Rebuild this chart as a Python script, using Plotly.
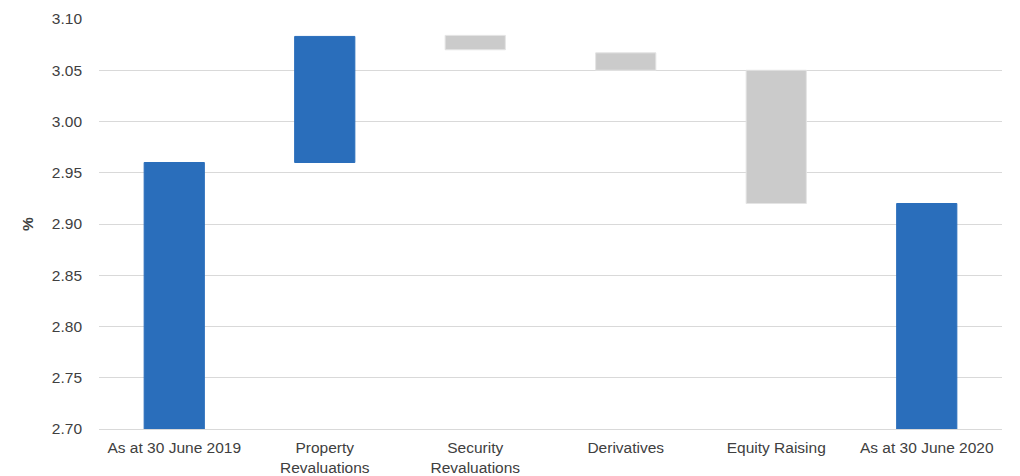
import plotly.graph_objects as go

# Categories along the x axis (multi-line labels use <br>)
categories = [
    "As at 30 June 2019",
    "Property<br>Revaluations",
    "Security<br>Revaluations",
    "Derivatives",
    "Equity Raising",
    "As at 30 June 2020",
]

# Floating bar extents (%), lower and upper edge of each bar
bar_bottom = [0.0, 2.960, 3.070, 3.050, 2.920, 0.0]
bar_top = [2.960, 3.083, 3.084, 3.067, 3.050, 2.920]

# Blue for totals / increases, grey for movements
BLUE = "#2a6ebb"
GREY = "#cbcbcb"
bar_colors = [BLUE, BLUE, GREY, GREY, GREY, BLUE]
edge_colors = [BLUE, BLUE, "#e4e4e4", "#e4e4e4", "#e4e4e4", BLUE]

y_ticks = [2.70, 2.75, 2.80, 2.85, 2.90, 2.95, 3.00, 3.05, 3.10]

heights = [t - b for t, b in zip(bar_top, bar_bottom)]

fig = go.Figure(
    go.Bar(
        x=categories,
        y=heights,
        base=bar_bottom,
        width=0.4,
        marker=dict(color=bar_colors, line=dict(color=edge_colors, width=1)),
        hoverinfo="skip",
    )
)

TEXT = "#404040"
FONT = "Liberation Sans, Arial, sans-serif"

fig.update_layout(
    width=1020,
    height=476,
    margin=dict(l=99, r=18, t=19, b=47),
    paper_bgcolor="white",
    plot_bgcolor="white",
    showlegend=False,
    font=dict(family=FONT, size=15.5, color=TEXT),
    bargap=0.6,
)

fig.update_yaxes(
    range=[2.70, 3.10],
    tickvals=y_ticks,
    tickformat=".2f",
    showgrid=True,
    gridcolor="#d9d9d9",
    gridwidth=1,
    zeroline=False,
    showline=False,
    ticks="",
    ticklabelstandoff=16,
    title=dict(text="<b>%</b>", standoff=14, font=dict(size=15.5, color=TEXT)),
    automargin=False,
)

fig.update_xaxes(
    showgrid=False,
    showline=True,
    linecolor="#d9d9d9",
    linewidth=1,
    ticks="",
    ticklabelstandoff=4,
    tickangle=0,
    automargin=False,
)

fig.write_html("out.html")
